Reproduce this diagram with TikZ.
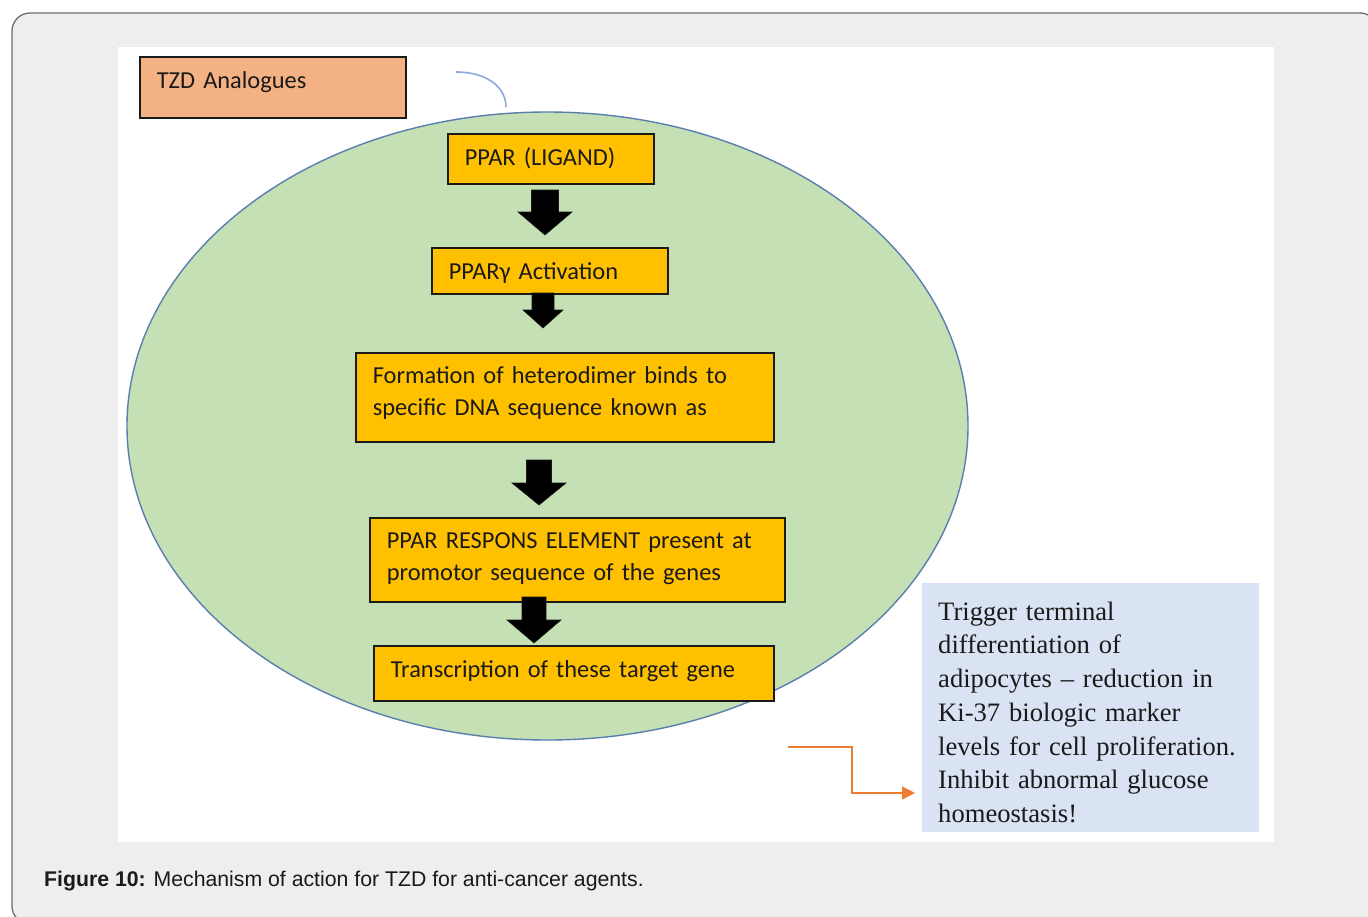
\documentclass[tikz,border=0pt]{standalone}
\usepackage{fontspec}
\setmainfont{Carlito}
\newfontfamily\serifface{Liberation Serif}
\newfontfamily\capface{Liberation Sans}
\usetikzlibrary{arrows.meta,shapes.geometric}
\definecolor{framebg}{HTML}{EEEEEE}
\definecolor{framedraw}{HTML}{6E6E6E}
\definecolor{cellgreen}{HTML}{C5E0B4}
\definecolor{cellblue}{HTML}{5A7FAE}
\definecolor{curveblue}{HTML}{8EA9DB}
\definecolor{tzdorange}{HTML}{F4B183}
\definecolor{boxyellow}{HTML}{FFC000}
\definecolor{infoblue}{HTML}{DAE3F3}
\definecolor{linkorange}{HTML}{ED7D31}
\definecolor{inkdark}{HTML}{1A1A1A}
\tikzset{
  flowbox/.style={draw=inkdark, line width=1.7pt, fill=boxyellow, inner xsep=17pt, inner ysep=0pt,
    align=left, anchor=north west, text=inkdark, font=\fontsize{24.4}{32}\selectfont},
  blockarrow/.style={fill=black, draw=inkdark, line width=0.6pt, line join=miter},
  infobox/.style={fill=infoblue, inner xsep=16pt, inner ysep=0pt, align=left, anchor=north west,
    text=inkdark, font=\serifface\fontsize{26.6}{33.7}\selectfont},
  linkline/.style={draw=linkorange, line width=1.6pt, -{Triangle[length=13pt,width=13pt]}},
}
% block arrow: x centre, shaft top, head base, tip, half shaft width, half head width
\newcommand\blockarr[6]{%
  \filldraw[blockarrow] (#1-#5,#2) -- (#1+#5,#2) -- (#1+#5,#3) -- (#1+#6,#3) -- (#1,#4)
    -- (#1-#6,#3) -- (#1-#5,#3) -- cycle;}
\begin{document}
\begin{tikzpicture}[x=1pt,y=-1pt]
\useasboundingbox (0,0) rectangle (1368,916);
\clip (0,0) rectangle (1368,916);
\fill[white] (0,0) rectangle (1368,916);
% outer frame and white panel
\draw[fill=framebg, draw=framedraw, line width=1.3pt, rounded corners=18pt] (12,13) rectangle (1378,924);
\fill[white] (118,47) rectangle (1274,842);
% cell ellipse
\node[ellipse, draw=cellblue, fill=cellgreen, line width=1.4pt, minimum width=841pt, minimum height=628pt, inner sep=0pt] (cell) at (547.5,426) {};
% TZD box and curve
\node[flowbox, fill=tzdorange, text width=232pt, text height=32pt, text depth=29pt] (tzd) at (139,56) {TZD Analogues};
\coordinate (curvestart) at (456,72);
\coordinate (curveend) at (506,107);
\draw[curveblue, line width=1.6pt] (curvestart) .. controls (488,72) and (506,88) .. (curveend);
% flow boxes
\node[flowbox, text width=172pt, text height=32pt, text depth=18pt] (ligand) at (447,133) {PPAR (LIGAND)};
\node[flowbox, text width=202pt, text height=32pt, text depth=14pt] (activation) at (431,247) {PPARγ Activation};
\node[flowbox, text width=384pt, text height=31pt, text depth=58pt] (heterodimer) at (355,352) {Formation of heterodimer binds to\\specific DNA sequence known as};
\node[flowbox, text width=381pt, text height=31pt, text depth=53pt] (response) at (369,517) {PPAR RESPONS ELEMENT present at\\promotor sequence of the genes};
\node[flowbox, text width=366pt, text height=32pt, text depth=23pt] (transcription) at (373,645) {Transcription of these target gene};
% block arrows
\blockarr{545}{190}{212}{235}{13.5}{27}
\blockarr{543}{293}{310}{328}{11}{20}
\blockarr{539}{460}{483}{505}{12.5}{27}
\blockarr{534}{597}{620}{643}{12}{27}
% info box
\node[infobox, text width=305pt, text height=37pt, text depth=212pt] (info) at (922,583) {Trigger terminal\\differentiation of\\adipocytes – reduction in\\Ki-37 biologic marker\\levels for cell proliferation.\\Inhibit abnormal glucose\\homeostasis!};
% orange connector
\coordinate (linkstart) at (788,747);
\coordinate (linkend) at (915,793);
\draw[linkline] (linkstart) -- (852,747) |- (linkend);
% caption
\node[anchor=base west, inner sep=0pt, text=inkdark, font=\capface\fontsize{21.25}{25}\selectfont] (caption) at (44,886) {\textbf{Figure 10:} Mechanism of action for TZD for anti-cancer agents.};
\end{tikzpicture}
\end{document}
